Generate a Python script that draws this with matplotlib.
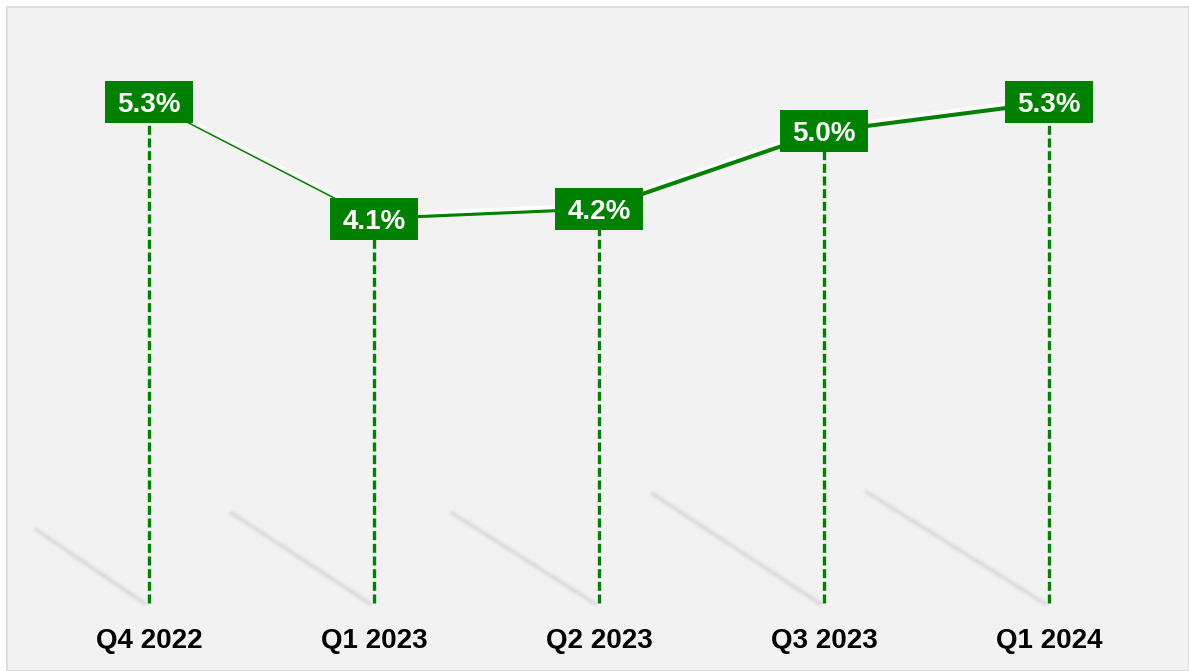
import matplotlib
matplotlib.use("Agg")
import matplotlib.pyplot as plt
import matplotlib.transforms as mtransforms
from matplotlib.patches import Rectangle
from matplotlib.path import Path

quarters = ["Q4 2022", "Q1 2023", "Q2 2023", "Q3 2023", "Q1 2024"]
rates = [5.3, 4.1, 4.2, 5.0, 5.3]
labels = ["5.3%", "4.1%", "4.2%", "5.0%", "5.3%"]

GREEN = "#008000"
BG = "#F2F2F2"
plt.rcParams["font.family"] = ["Liberation Sans", "DejaVu Sans"]

fig = plt.figure(figsize=(11.89, 6.71), dpi=100)
fig.patch.set_facecolor("white")
# panel with thin light border
fig.patches.append(Rectangle((7 / 1189, 0), 1 - 7 / 1189, 1 - 7 / 671,
                             transform=fig.transFigure, facecolor=BG,
                             edgecolor="#D9D9D9", lw=1.2, zorder=-5))

ax = fig.add_axes([0, 0, 1, 1])
ax.set_facecolor("none")
ax.set_xlim(-0.662, 4.622)
ax.set_ylim(-0.58, 6.36)
ax.axis("off")

xs = list(range(len(quarters)))
base = 0.12

# faint diagonal shadows behind the drop lines
for x, dx, top in zip(xs, [0.5, 0.63, 0.65, 0.76, 0.81], [0.88, 1.05, 1.05, 1.25, 1.27]):
    for lw, a in [(6, 0.15), (3.5, 0.3), (1.8, 0.45)]:
        ax.plot([x - dx, x - 0.02], [top, base], color="#D6D6D6", lw=lw,
                alpha=a, solid_capstyle="round", zorder=1)

# dashed drop lines
for x, v in zip(xs, rates):
    ax.plot([x, x], [base, v], color=GREEN, lw=2.4, ls=(0, (2.7, 1.1)), zorder=2)

# connecting line segments with white offset highlight
widths = [1.1, 2.2, 2.9, 2.9]
shadow = mtransforms.offset_copy(ax.transData, fig=fig, x=1.0, y=3.5, units="dots")
for i, w in enumerate(widths):
    seg_x = [xs[i], xs[i + 1]]
    seg_y = [rates[i], rates[i + 1]]
    ax.plot(seg_x, seg_y, color="white", lw=w + 0.6, transform=shadow, zorder=3)
    ax.plot(seg_x, seg_y, color=GREEN, lw=w, zorder=4)

# value boxes (rectangular marker, ~89x43 px)
box = Path([(-89, -43), (89, -43), (89, 43), (-89, 43), (-89, -43)], closed=True)
ax.plot(xs, rates, ls="none", marker=box, markersize=64, color=GREEN,
        markeredgewidth=0, zorder=5)
for x, v, t in zip(xs, rates, labels):
    ax.text(x, v, t, ha="center", va="center_baseline", color="white", fontsize=20,
            fontweight="bold", zorder=6)

# category labels
for x, q in zip(xs, quarters):
    ax.text(x, -0.24, q, ha="center", va="center_baseline", color="black", fontsize=20,
            fontweight="bold", zorder=6)

fig.savefig("out.png", dpi=100, facecolor=fig.get_facecolor())
